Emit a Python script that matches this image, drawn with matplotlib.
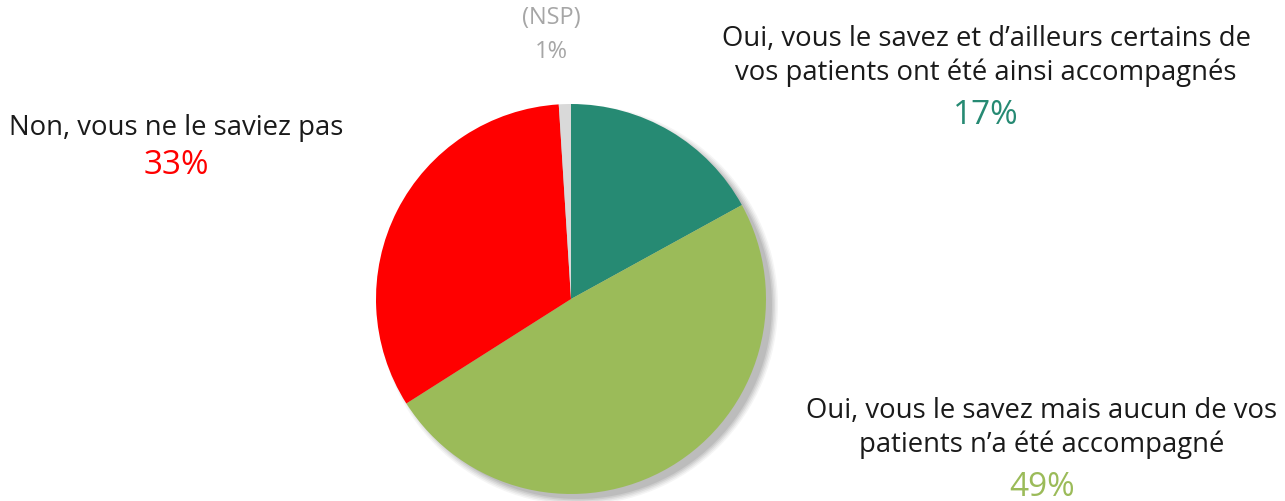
import matplotlib.pyplot as plt
from matplotlib.patches import Circle

# === Données ===
labels = ["Oui, vous le savez et d’ailleurs certains de\nvos patients ont été ainsi accompagnés",
          "Oui, vous le savez mais aucun de vos\npatients n’a été accompagné",
          "Non, vous ne le saviez pas",
          "(NSP)"]
values = [17, 49, 33, 1]
colors = ["#268A73", "#9BBB59", "#FF0000", "#D9D9D9"]
pct_colors = ["#268A73", "#9BBB59", "#FF0000", "#A6A6A6"]

plt.rcParams["font.family"] = ["Open Sans", "DejaVu Sans"]

W, H = 1285, 502
fig = plt.figure(figsize=(W / 100, H / 100), dpi=100)
ax = fig.add_axes([0, 0, 1, 1])

cx, cy, r = 571, H - 300, 195

# ombre portée
for i, a in enumerate([0.08, 0.10, 0.13, 0.16, 0.2]):
    ax.add_patch(Circle((cx + 7, cy - 6), r + 5 - i * 1.5, color="#808080", alpha=a, lw=0, zorder=1))

ax.pie(values, colors=colors, startangle=90, counterclock=False,
       center=(cx, cy), radius=r, frame=True,
       wedgeprops=dict(linewidth=0, zorder=2))
ax.set_xlim(0, W)
ax.set_ylim(0, H)
ax.set_aspect("equal")
ax.axis("off")

# === Étiquettes ===
# (x, y_texte, y_pct, taille texte, taille pct)
pos = [(986, 56, 115, 19.8, 24),
       (1042, 428, 488, 19.8, 24),
       (176, 128, 166, 19.8, 24),
       (551, 18, 52, 17, 17)]

for lab, v, c, (x, yt, yp, fs, fsp) in zip(labels, values, pct_colors, pos):
    tc = "#A6A6A6" if lab == "(NSP)" else "#1a1a1a"
    ax.text(x, H - yt, lab, ha="center", va="center", fontsize=fs,
            color=tc, linespacing=1.3)
    ax.text(x, H - yp, f"{v}%", ha="center", va="center", fontsize=fsp, color=c)

fig.savefig("out.png", dpi=100)
